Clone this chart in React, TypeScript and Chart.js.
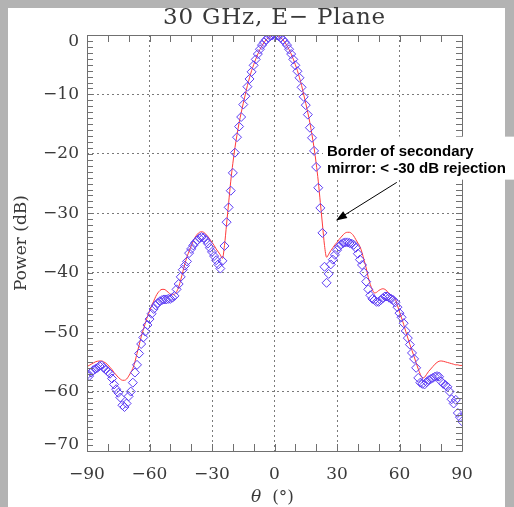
import React, { useEffect, useRef } from 'react';
import { Chart, registerables } from 'chart.js';

Chart.register(...registerables);

// ---------- data ----------
const THETA_DEG = [
  -90, -89, -88, -87, -86, -85, -84, -83, -82, -81, -80, -79, -78, -77, -76, -75, -74, -73, -72, -71,
  -70, -69, -68, -67, -66, -65, -64, -63, -62, -61, -60, -59, -58, -57, -56, -55, -54, -53, -52, -51,
  -50, -49, -48, -47, -46, -45, -44, -43, -42, -41, -40, -39, -38, -37, -36, -35, -34, -33, -32, -31,
  -30, -29, -28, -27, -26, -25, -24, -23, -22, -21, -20, -19, -18, -17, -16, -15, -14, -13, -12, -11,
  -10, -9, -8, -7, -6, -5, -4, -3, -2, -1, 0, 1, 2, 3, 4, 5, 6, 7, 8, 9,
  10, 11, 12, 13, 14, 15, 16, 17, 18, 19, 20, 21, 22, 23, 24, 25, 26, 27, 28, 29,
  30, 31, 32, 33, 34, 35, 36, 37, 38, 39, 40, 41, 42, 43, 44, 45, 46, 47, 48, 49,
  50, 51, 52, 53, 54, 55, 56, 57, 58, 59, 60, 61, 62, 63, 64, 65, 66, 67, 68, 69,
  70, 71, 72, 73, 74, 75, 76, 77, 78, 79, 80, 81, 82, 83, 84, 85, 86, 87, 88, 89, 90,
];

// simulated beam (red line), dB
const MODEL_DB = [
  -55.8, -55.6, -55.4, -55.2, -55.0, -54.9, -54.85, -54.85, -55.0, -55.2, -55.5, -55.9, -56.3, -56.8, -57.2, -57.6, -57.9, -58.1, -58.1, -57.9,
  -57.4, -56.8, -56.1, -55.0, -53.6, -52.2, -50.8, -49.6, -48.5, -47.4, -46.5, -45.6, -44.8, -44.0, -43.4, -43.0, -42.8, -42.8, -43.0, -43.3,
  -43.6, -43.7, -43.6, -43.2, -42.4, -41.2, -39.8, -38.5, -37.3, -36.4, -35.5, -34.7, -34.0, -33.5, -33.2, -33.1, -33.2, -33.5, -33.9, -34.4,
  -34.9, -35.4, -36.0, -36.5, -37.0, -37.6, -35.4, -31.8, -28.2, -24.6, -21.6, -19.0, -16.8, -14.8, -13.1, -11.5, -10.0, -8.5, -7.2, -6.0,
  -5.0, -4.05, -3.2, -2.45, -1.8, -1.25, -0.8, -0.45, -0.2, -0.05, 0, -0.05, -0.2, -0.45, -0.8, -1.25, -1.8, -2.45, -3.2, -4.05,
  -5.0, -6.0, -7.2, -8.5, -10.0, -11.5, -13.1, -14.8, -16.8, -19.0, -21.6, -24.6, -28.2, -31.8, -35.4, -37.4, -36.9, -36.3, -35.8, -35.3,
  -34.9, -34.4, -34.0, -33.6, -33.3, -33.2, -33.2, -33.4, -33.8, -34.4, -35.0, -35.6, -36.6, -37.9, -39.2, -40.8, -42.0, -42.9, -43.4, -43.3,
  -43.0, -42.8, -42.7, -42.8, -43.1, -43.5, -43.8, -44.1, -44.5, -45.5, -46.6, -47.6, -48.7, -49.9, -51.0, -52.1, -53.1, -54.1, -55.2, -56.2,
  -57.1, -57.7, -57.6, -57.1, -56.6, -56.2, -55.8, -55.4, -55.1, -54.9, -54.85, -54.9, -55.0, -55.1, -55.2, -55.3, -55.4, -55.5, -55.5, -55.6, -55.6,
];

// measured beam (blue diamonds), dB
const MEASURED_DB = [
  -57.2, -57.4, -56.8, -56.4, -56.2, -56.0, -55.7, -55.6, -56.0, -56.3, -56.6, -57.0, -57.8, -58.8, -59.6, -60.2, -61.0, -62.3, -62.6, -62.0,
  -60.8, -60.0, -58.5, -56.8, -55.5, -53.6, -52.0, -50.9, -49.9, -48.8, -47.8, -46.9, -46.1, -45.5, -45.1, -44.8, -44.6, -44.5, -44.5, -44.4,
  -44.4, -44.2, -43.9, -42.8, -41.9, -40.7, -39.5, -38.8, -38.1, -36.7, -36.0, -35.4, -34.9, -34.5, -34.2, -34.0, -34.1, -34.5, -35.1, -35.8,
  -36.5, -37.2, -37.9, -38.6, -39.3, -38.0, -35.5, -31.5, -29.0, -26.2, -23.2, -19.8, -17.2, -15.4, -13.8, -11.7, -10.3, -8.7, -7.4, -6.2,
  -5.1, -4.1, -3.2, -2.4, -1.7, -1.2, -0.8, -0.45, -0.2, -0.05, 0, -0.05, -0.2, -0.45, -0.8, -1.2, -1.7, -2.4, -3.2, -4.1,
  -5.1, -6.1, -7.2, -8.8, -10.4, -11.8, -13.4, -15.6, -17.3, -19.5, -22.2, -25.7, -29.1, -33.3, -39.0, -41.7, -40.2, -38.6, -37.8, -37.0,
  -36.2, -35.6, -35.2, -35.0, -34.9, -34.9, -35.0, -35.1, -35.3, -35.8, -36.8, -37.8, -38.7, -40.0, -41.5, -42.8, -43.8, -44.4, -44.6, -44.9,
  -44.9, -44.6, -44.3, -44.0, -44.0, -44.2, -44.4, -44.6, -45.0, -45.8, -46.8, -47.5, -48.5, -49.8, -51.0, -52.1, -53.5, -54.5, -56.0, -57.7,
  -58.5, -58.7, -58.8, -58.4, -58.1, -57.9, -57.7, -57.5, -57.4, -57.5, -58.3, -58.7, -58.9, -59.2, -60.0, -61.3, -62.0, -61.4, -63.6, -64.3, -65.0,
];

const X_MIN = -90;
const X_MAX = 90;
const X_STEP = 30;
const X_MINOR_STEP = 10;
const Y_MIN = -70;
const Y_MAX = 0;
const Y_STEP = 10;
const Y_MINOR_STEP = 1;

const TITLE = '30 GHz, E\u2212 Plane';
const X_TITLE_SYMBOL = '\u03b8';
const X_TITLE_UNIT = '  (\u00b0)';
const Y_TITLE = 'Power (dB)';
const NOTE_LINES = ['Border of secondary', 'mirror: < -30 dB rejection'];
// arrow: tail and tip in data coordinates (theta, dB)
const ARROW_TAIL = [58.7, -24.8];
const ARROW_TIP = [29.5, -31.2];
const NOTE_ANCHOR = [25.2, -20.3];

// ---------- styles ----------
const SERIF = '"DejaVu Serif", serif';
const TEXT_COLOR = '#3a3a3a';
const FRAME_COLOR = '#707070';
const GRID_COLOR = '#7a7a7a';

const fmt = (v: number) => (v < 0 ? '\u2212' + Math.abs(v) : String(v));

const decorPlugin = {
  id: 'decor',
  beforeDraw(chart: any) {
    const { ctx, width, height } = chart;
    ctx.save();
    ctx.fillStyle = '#b3b3b3';
    ctx.fillRect(0, 0, width, height);
    ctx.fillStyle = '#ffffff';
    ctx.fillRect(8, 8, 497, height - 8);
    ctx.restore();
  },
  afterDatasetsDraw(chart: any) {
    const { ctx, chartArea: a, scales } = chart;
    const xs = scales.x;
    const ys = scales.y;
    ctx.save();
    ctx.strokeStyle = FRAME_COLOR;
    ctx.lineWidth = 1;
    ctx.beginPath();
    ctx.rect(Math.round(a.left) + 0.5, Math.round(a.top) + 0.5, Math.round(a.right - a.left), Math.round(a.bottom - a.top));
    ctx.stroke();
    ctx.beginPath();
    for (let v = X_MIN; v <= X_MAX; v += X_MINOR_STEP) {
      const px = Math.round(xs.getPixelForValue(v)) + 0.5;
      ctx.moveTo(px, a.bottom);
      ctx.lineTo(px, a.bottom - 7);
      ctx.moveTo(px, a.top);
      ctx.lineTo(px, a.top + 7);
    }
    for (let v = Y_MIN; v <= Y_MAX; v += Y_MINOR_STEP) {
      const py = Math.round(ys.getPixelForValue(v)) + 0.5;
      ctx.moveTo(a.left, py);
      ctx.lineTo(a.left + 6, py);
      ctx.moveTo(a.right, py);
      ctx.lineTo(a.right - 6, py);
    }
    ctx.stroke();
    ctx.restore();
  },
  afterDraw(chart: any) {
    const { ctx, chartArea: a, scales } = chart;
    const xs = scales.x;
    const ys = scales.y;
    const cx = (a.left + a.right) / 2;
    ctx.save();
    // title
    ctx.fillStyle = TEXT_COLOR;
    ctx.font = '23px ' + SERIF;
    ctx.textAlign = 'center';
    ctx.textBaseline = 'middle';
    try { (ctx as any).letterSpacing = '0.8px'; } catch (e) { /* ignore */ }
    ctx.fillText(TITLE, cx, 18);
    try { (ctx as any).letterSpacing = '0px'; } catch (e) { /* ignore */ }
    // x title with italic theta
    ctx.font = 'italic 17px ' + SERIF;
    const w1 = ctx.measureText(X_TITLE_SYMBOL).width;
    ctx.font = '17px ' + SERIF;
    const w2 = ctx.measureText(X_TITLE_UNIT).width;
    const start = cx - 2 - (w1 + w2) / 2;
    ctx.textAlign = 'left';
    ctx.font = 'italic 17px ' + SERIF;
    ctx.fillText(X_TITLE_SYMBOL, start, 498);
    ctx.font = '17px ' + SERIF;
    ctx.fillText(X_TITLE_UNIT, start + w1, 498);

    // annotation box + text
    const nx = xs.getPixelForValue(NOTE_ANCHOR[0]);
    const ny = ys.getPixelForValue(NOTE_ANCHOR[1]);
    ctx.fillStyle = '#ffffff';
    ctx.fillRect(nx - 4, ny - 19, chart.width - (nx - 4), 43);
    ctx.fillStyle = '#000000';
    ctx.font = 'bold 15px "Liberation Sans", Arial, sans-serif';
    ctx.textBaseline = 'alphabetic';
    NOTE_LINES.forEach((line, i) => ctx.fillText(line, nx, ny + i * 17));

    // arrow
    const tx = xs.getPixelForValue(ARROW_TAIL[0]);
    const ty = ys.getPixelForValue(ARROW_TAIL[1]);
    const hx = xs.getPixelForValue(ARROW_TIP[0]);
    const hy = ys.getPixelForValue(ARROW_TIP[1]);
    const ang = Math.atan2(hy - ty, hx - tx);
    const L = 11;
    const W = 4;
    ctx.strokeStyle = '#000';
    ctx.lineWidth = 1;
    ctx.beginPath();
    ctx.moveTo(tx, ty);
    ctx.lineTo(hx - Math.cos(ang) * L * 0.8, hy - Math.sin(ang) * L * 0.8);
    ctx.stroke();
    ctx.beginPath();
    ctx.moveTo(hx, hy);
    ctx.lineTo(hx - Math.cos(ang) * L - Math.sin(ang) * W, hy - Math.sin(ang) * L + Math.cos(ang) * W);
    ctx.lineTo(hx - Math.cos(ang) * L + Math.sin(ang) * W, hy - Math.sin(ang) * L - Math.cos(ang) * W);
    ctx.closePath();
    ctx.fillStyle = '#000';
    ctx.fill();
    ctx.restore();
  },
};

export default function App() {
  const canvasRef = useRef<HTMLCanvasElement | null>(null);

  useEffect(() => {
    const canvas = canvasRef.current;
    if (!canvas) return;
    const model = THETA_DEG.map((t, i) => ({ x: t, y: MODEL_DB[i] }));
    const measured = THETA_DEG.map((t, i) => ({ x: t, y: MEASURED_DB[i] }));
    const chart = new Chart(canvas, {
      type: 'scatter',
      data: {
        datasets: [
          {
            label: 'Measured',
            data: measured,
            showLine: false,
            pointStyle: 'rectRot',
            pointRadius: 4.5,
            pointBorderWidth: 1,
            borderColor: '#5c3cf5',
            backgroundColor: 'rgba(0,0,0,0)',
            pointBackgroundColor: 'rgba(0,0,0,0)',
            order: 0,
          },
          {
            label: 'Model',
            data: model,
            showLine: true,
            pointRadius: 0,
            borderColor: '#ff3b3b',
            borderWidth: 1,
            cubicInterpolationMode: 'monotone',
            order: 1,
          },
        ],
      },
      options: {
        animation: false,
        responsive: false,
        devicePixelRatio: 1,
        layout: { padding: { left: 0, right: 52, top: 35, bottom: 0 } },
        plugins: {
          legend: { display: false },
          tooltip: { enabled: false },
          title: { display: false },
        },
        scales: {
          x: {
            type: 'linear',
            min: X_MIN,
            max: X_MAX,
            afterFit: (s: any) => {
              s.height = 56;
            },
            afterBuildTicks: (s: any) => {
              const t = [];
              for (let v = X_MIN; v <= X_MAX; v += X_STEP) t.push({ value: v });
              s.ticks = t;
            },
            ticks: {
              callback: (v: any) => fmt(Number(v)),
              font: { family: SERIF, size: 17 },
              color: TEXT_COLOR,
              padding: 13,
              maxRotation: 0,
              autoSkip: false,
            },
            grid: { color: GRID_COLOR, lineWidth: 1, drawTicks: false },
            border: { display: false, dash: [2, 3] },
          },
          y: {
            type: 'linear',
            min: Y_MIN,
            max: Y_MAX,
            afterFit: (s: any) => {
              s.width = 87;
            },
            afterBuildTicks: (s: any) => {
              const t = [];
              for (let v = Y_MIN; v <= Y_MAX; v += Y_STEP) t.push({ value: v });
              s.ticks = t;
            },
            ticks: {
              callback: (v: any) => {
                const n = Number(v);
                if (n === Y_MAX) return ['', fmt(n)];
                if (n === Y_MIN) return [fmt(n), ''];
                return fmt(n);
              },
              font: { family: SERIF, size: 17, lineHeight: 0.8 },
              color: TEXT_COLOR,
              padding: 8,
              autoSkip: false,
            },
            grid: { color: GRID_COLOR, lineWidth: 1, drawTicks: false },
            border: { display: false, dash: [2, 3] },
            title: {
              display: true,
              text: Y_TITLE,
              font: { family: SERIF, size: 17 },
              color: TEXT_COLOR,
              padding: { top: 11, bottom: 0 },
            },
          },
        },
      },
      plugins: [decorPlugin],
    } as any);
    return () => chart.destroy();
  }, []);

  return (
    <div style={{ position: 'fixed', left: 0, top: 0, width: 514, height: 507 }}>
      <canvas ref={canvasRef} width={514} height={507} style={{ width: 514, height: 507, display: 'block' }} />
    </div>
  );
}
